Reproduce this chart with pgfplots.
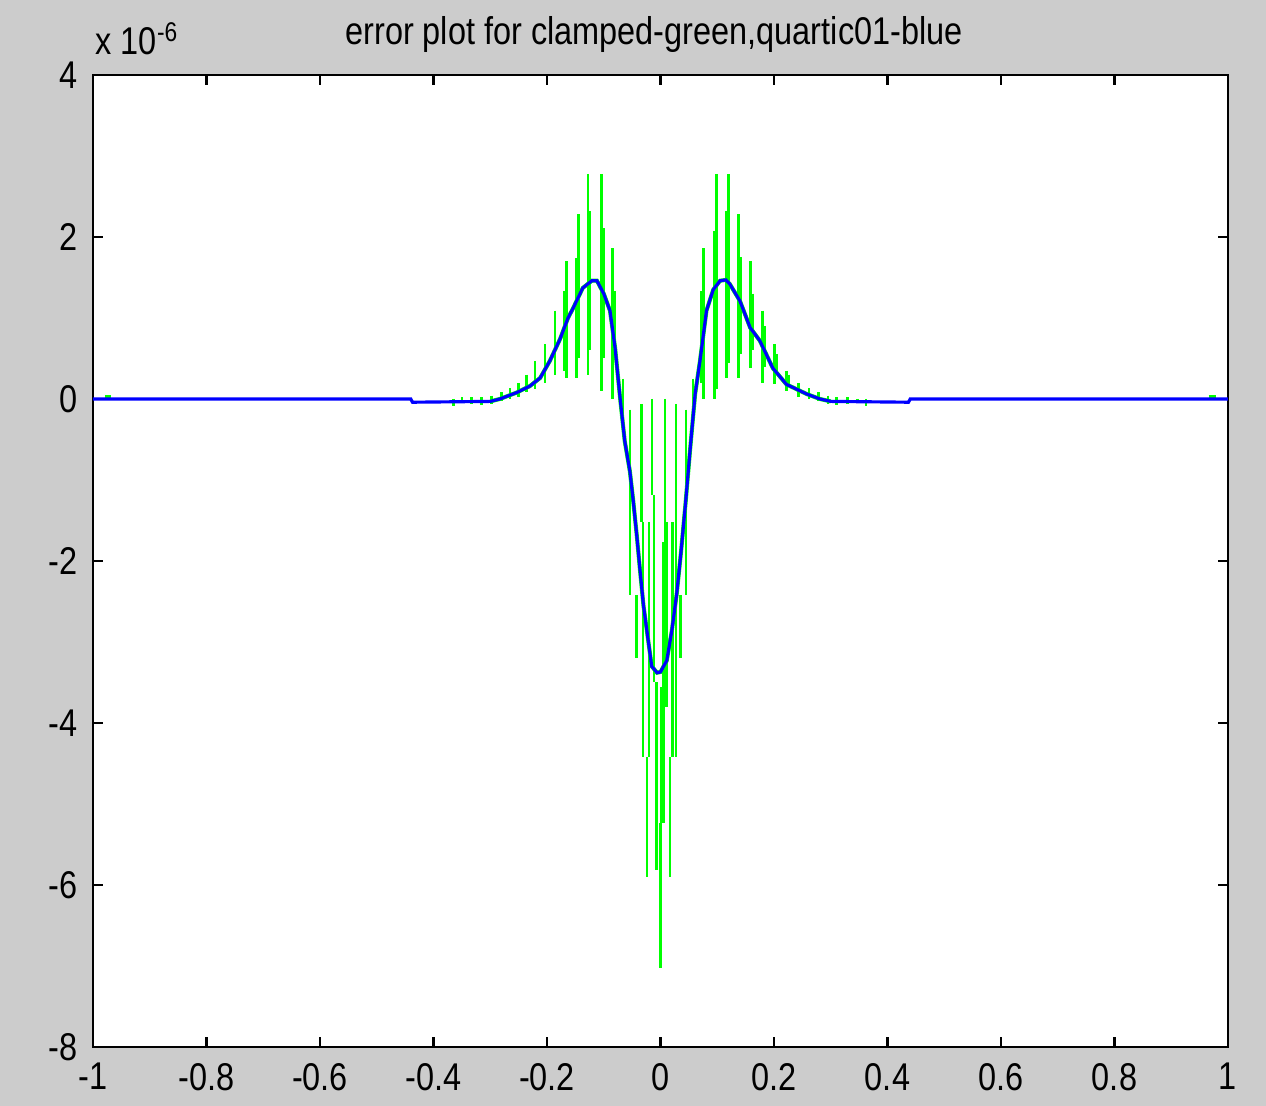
\documentclass[border=0pt]{standalone}
\usepackage{fontspec}
\setmainfont{Liberation Sans}[FakeStretch=0.84]
\usepackage{pgfplots}
\usepackage{pgfplotstable}
\pgfplotsset{compat=1.18}
\definecolor{figgray}{RGB}{204,204,204}
\definecolor{mgreen}{RGB}{0,255,0}
\definecolor{mblue}{RGB}{0,0,255}

% quartic01 error (blue), units of 1e-6
\pgfplotstableread{
x y
-1 0
-0.44 0
-0.437 -0.04
-0.30 -0.03
-0.283 0.0
-0.253 0.08
-0.23 0.16
-0.212 0.26
-0.195 0.47
-0.177 0.74
-0.163 1.0
-0.154 1.12
-0.137 1.37
-0.121 1.46
-0.112 1.46
-0.100 1.30
-0.089 1.09
-0.080 0.63
-0.071 0.0
-0.063 -0.52
-0.054 -0.89
-0.048 -1.26
-0.042 -1.67
-0.036 -2.12
-0.030 -2.55
-0.024 -2.86
-0.0155 -3.30
-0.006 -3.38
0.0 -3.37
0.011 -3.23
0.020 -2.86
0.0285 -2.41
0.036 -1.90
0.044 -1.30
0.052 -0.64
0.061 0.06
0.0696 0.47
0.081 1.09
0.093 1.35
0.105 1.46
0.115 1.47
0.122 1.42
0.14 1.21
0.158 0.88
0.175 0.72
0.198 0.38
0.222 0.18
0.258 0.06
0.281 0.0
0.30 -0.03
0.437 -0.04
0.44 0
1 0
}\bluedata

% clamped error (green): vertical strokes, top u and bottom l
\pgfplotstableread{
x u l
-0.365 0.0 -0.09
-0.35 0.02 -0.05
-0.333 0.02 -0.06
-0.315 0.02 -0.08
-0.298 0.04 -0.06
-0.28 0.08 -0.03
-0.265 0.13 0.0
-0.25 0.20 0.02
-0.236 0.30 0.08
-0.221 0.47 0.12
-0.2035 0.68 0.20
-0.186 1.09 0.30
-0.1695 1.33 0.35
-0.1655 1.70 0.26
-0.1485 1.74 0.26
-0.1445 2.28 0.50
-0.1275 2.78 0.30
-0.1245 2.32 0.60
-0.104 2.78 0.10
-0.100 2.11 0.50
-0.0845 1.86 0.0
-0.0805 1.33 0.50
-0.066 0.25 -0.35
-0.054 -0.13 -2.42
-0.042 -2.42 -3.20
-0.034 -0.06 -1.52
-0.031 -1.52 -4.42
-0.024 -4.42 -5.90
-0.020 -1.52 -4.42
-0.015 0.0 -1.19
-0.0115 -1.19 -3.50
-0.0067 -3.50 -5.81
0.0 -5.24 -7.03
0.002 -3.55 -5.24
0.005 -1.76 -5.24
0.0079 0.0 -1.76
0.011 -1.52 -3.80
0.017 -4.42 -5.90
0.021 -1.52 -4.42
0.027 -0.06 -4.42
0.0356 -2.42 -3.20
0.045 -0.13 -2.42
0.057 0.25 -0.35
0.0726 1.33 0.20
0.0754 1.86 0.0
0.095 2.07 0.0
0.099 2.78 0.12
0.116 2.32 0.26
0.120 2.78 0.45
0.138 2.28 0.26
0.142 1.75 0.55
0.159 1.70 0.38
0.163 1.30 0.60
0.180 1.09 0.20
0.184 0.90 0.40
0.201 0.68 0.18
0.205 0.55 0.30
0.222 0.35 0.10
0.226 0.30 0.15
0.243 0.20 0.02
0.262 0.13 0.0
0.278 0.08 -0.03
0.295 0.04 -0.06
0.31 0.02 -0.08
0.33 0.02 -0.06
0.347 0.0 -0.05
0.362 0.0 -0.09
}\greenspikes

\begin{document}
\begin{tikzpicture}
\useasboundingbox (-0.93,-0.59) rectangle (11.73,10.47);
\fill[figgray] (-0.93,-0.59) rectangle (11.73,10.47);
\begin{axis}[
    at={(0,0)}, anchor=south west,
    width=11.35cm, height=9.72cm, scale only axis,
    xmin=-1, xmax=1, ymin=-8, ymax=4,
    axis background/.style={fill=white},
    axis line style={line width=0.75pt},
    tick style={black, line width=0.6pt},
    tick align=inside, major tick length=0.1cm,
    tick pos=both,
    xtick={-1,-0.8,-0.6,-0.4,-0.2,0,0.2,0.4,0.6,0.8,1},
    xticklabels={-1,-0.8,-0.6,-0.4,-0.2,0,0.2,0.4,0.6,0.8,1},
    ytick={-8,-6,-4,-2,0,2,4},
    yticklabels={-8,-6,-4,-2,0,2,4},
    ticklabel style={font=\fontsize{11}{13}\selectfont},
    xticklabel style={yshift=-0.04cm},
    yticklabel style={xshift=-0.03cm},
]
\addplot[mgreen, line width=1.15pt, restrict x to domain=-0.3:0.3] table {\bluedata};
\addplot[draw=none, error bars/.cd, y dir=minus, y explicit, error mark=none,
    error bar style={mgreen, line width=0.75pt}]
    table[x=x, y=u, y error expr=\thisrow{u}-\thisrow{l}] {\greenspikes};
\addplot[mgreen, line width=0.9pt] coordinates {(-0.979,0.035) (-0.968,0.035)};
\addplot[mgreen, line width=0.9pt] coordinates {(0.966,0.035) (0.978,0.035)};
\addplot[mblue, line width=0.9pt] table {\bluedata};
\end{axis}
\node[anchor=base west, inner sep=0pt, font=\fontsize{11}{13}\selectfont] at (0.02,9.92) {x 10\textsuperscript{-6}};
\node[anchor=base, inner sep=0pt, font=\fontsize{11}{13}\selectfont] at (5.61,10.02) {error plot for clamped-green,quartic01-blue};
\end{tikzpicture}
\end{document}
